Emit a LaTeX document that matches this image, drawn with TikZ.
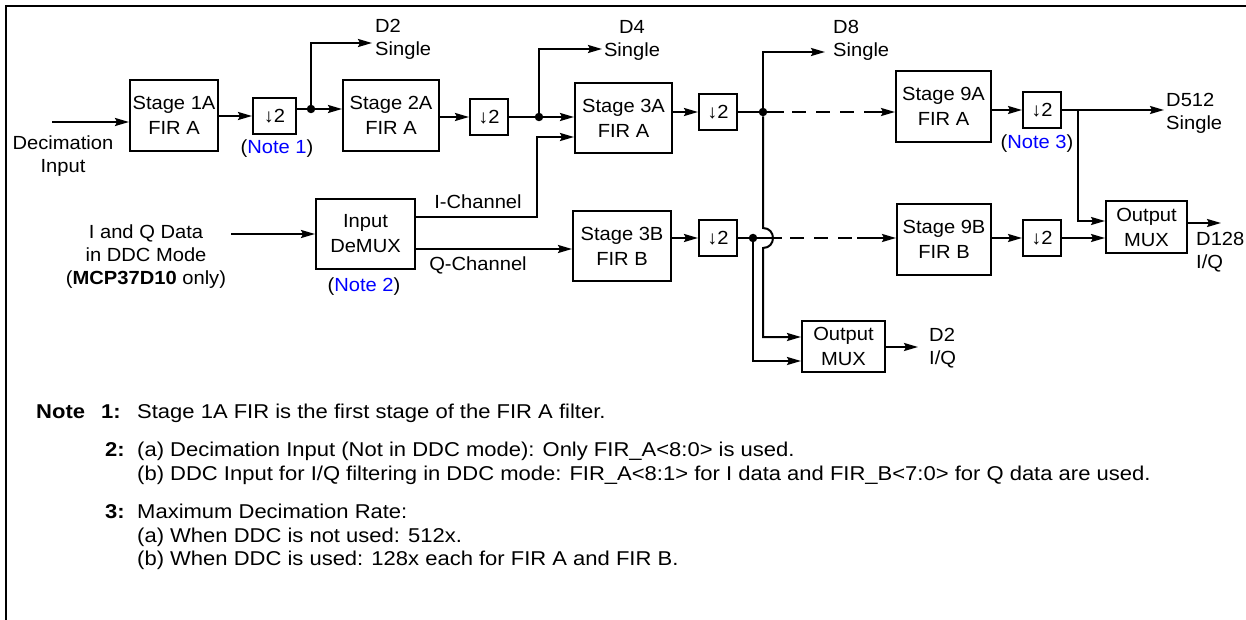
\documentclass[tikz,border=0pt]{standalone}
\usepackage{fontspec}
\setmainfont{Liberation Sans}[FakeStretch=1.06]
\newfontfamily\notefont{Liberation Sans}[FakeStretch=1.1]
\usetikzlibrary{arrows.meta,calc}
\definecolor{noteblue}{RGB}{0,0,255}
\begin{document}
\begin{tikzpicture}[x=1pt,y=-1pt,
  every node/.style={font=\fontsize{19}{23}\selectfont, inner sep=0pt},
  blk/.style={draw, line width=2pt, align=center, font=\fontsize{19}{25}\selectfont},
  dec/.style={draw, line width=2pt, minimum width=38pt, minimum height=36pt},
  wire/.style={line width=2pt},
  arr/.style={wire, -{Stealth[length=14pt,width=8pt,inset=2pt]}},
  dot/.style={circle, fill, minimum size=8.5pt, inner sep=0pt},
  lbl/.style={align=left, anchor=west},
  note/.style={font=\notefont\fontsize{20}{24}\selectfont, anchor=base west},
  notenum/.style={font=\notefont\fontsize{20}{24}\selectfont\bfseries, anchor=base east},
]
\useasboundingbox (0,0) rectangle (1246,620);
\draw[line width=2.4pt] (6,620) -- (6,6) -- (1246,6);

% blocks
\node[blk, minimum width=88pt, minimum height=71pt] (s1a) at (174,115.5) {Stage 1A\\FIR A};
\node[blk, minimum width=96pt, minimum height=71pt] (s2a) at (391,115.5) {Stage 2A\\FIR A};
\node[blk, minimum width=97pt, minimum height=70pt] (s3a) at (623.5,118) {Stage 3A\\FIR A};
\node[blk, minimum width=98pt, minimum height=70pt] (s3b) at (622,246) {Stage 3B\\FIR B};
\node[blk, minimum width=95pt, minimum height=71pt] (s9a) at (943.5,106.5) {Stage 9A\\FIR A};
\node[blk, minimum width=94pt, minimum height=71pt] (s9b) at (944,239.5) {Stage 9B\\FIR B};
\node[blk, minimum width=99pt, minimum height=70pt] (dmx) at (365.5,234) {Input\\DeMUX};
\node[blk, minimum width=83pt, minimum height=51pt] (om1) at (843.5,346.5) {Output\\MUX};
\node[blk, minimum width=81pt, minimum height=52pt] (om2) at (1146.5,227) {Output\\MUX};

\node[dec, minimum width=43pt] (d1) at (274.5,116) {↓2};
\node[dec] (d2) at (489,117) {↓2};
\node[dec] (d3) at (718,112) {↓2};
\node[dec] (d4) at (718,238) {↓2};
\node[dec] (d5) at (1042,110) {↓2};
\node[dec] (d6) at (1042,238) {↓2};

% junction dots
\node[dot] (j1) at (311,109) {};
\node[dot] (j2) at (539,117) {};
\node[dot] (j3) at (763,112) {};
\node[dot] (j4) at (753,238) {};

% free ends and bends
\coordinate (in1) at (52,122);
\coordinate (in2) at (231,234);
\coordinate (o2) at (372,43);
\coordinate (o4) at (602,49);
\coordinate (o8) at (825,52);
\coordinate (o512) at (1164,110);
\coordinate (o128) at (1221,223);
\coordinate (o2iq) at (918,347);
\coordinate (ich) at (537,217);
\coordinate (ich2) at (537,137);
\coordinate (qch) at (500,249);
\coordinate (hA) at (763,228);
\coordinate (hB) at (763,248);
\coordinate (k1) at (763,337);
\coordinate (k2) at (753,361);
\coordinate (j5) at (1078,110);
\coordinate (k3) at (1078,221);

% connectors
\draw[arr] (in1) -- (in1 -| s1a.west);
\draw[arr] (s1a.east |- d1) -- (d1.west);
\draw[wire] (d1.east |- j1) -- (j1);
\draw[arr] (j1) -- (j1 -| s2a.west);
\draw[arr] (j1) |- (o2);
\draw[arr] (s2a.east |- d2) -- (d2.west);
\draw[wire] (d2.east |- j2) -- (j2);
\draw[arr] (j2) -- (j2 -| s3a.west);
\draw[arr] (j2) |- (o4);
\draw[arr] (in2) -- (dmx.west);
\draw[arr] (dmx.east |- ich) -- (ich) -- (ich2) -- (ich2 -| s3a.west);
\draw[arr] (dmx.east |- qch) -- (qch -| s3b.west);
\draw[arr] (s3a.east |- d3) -- (d3.west);
\draw[wire] (d3.east |- j3) -- (j3);
\draw[arr] (j3) |- (o8);
\draw[arr, dash pattern=on 17pt off 8pt on 14pt off 10pt on 14pt off 10pt on 14pt off 10pt on 80pt off 0pt] (j3) -- (j3 -| s9a.west);
\draw[arr] (s3b.east |- d4) -- (d4.west);
\draw[wire] (d4.east) -- (j4);
\draw[arr, dash pattern=on 25pt off 8pt on 14pt off 10pt on 14pt off 10pt on 14pt off 5pt on 80pt off 0pt] (j4) -- (j4 -| s9b.west);
\draw[arr] (j3) -- (hA) .. controls +(13.3,0) and +(13.3,0) .. (hB) -- (k1) -- (k1 -| om1.west);
\draw[arr] (j4) -- (k2) -- (k2 -| om1.west);
\draw[arr] (om1.east |- o2iq) -- (o2iq);
\draw[arr] (s9a.east |- d5) -- (d5.west);
\draw[arr] (d5.east |- o512) -- (o512);
\draw[arr] (j5) -- (k3) -- (k3 -| om2.west);
\draw[arr] (s9b.east |- d6) -- (d6.west);
\draw[arr] (d6.east) -- (d6.east -| om2.west);
\draw[arr] (om2.east |- o128) -- (o128);

% labels
\node[lbl] (l2) at (375,39) {D2\\Single};
\node[align=center] (l4) at (632,40.5) {D4\\Single};
\node[lbl] (l8) at (833,40.5) {D8\\Single};
\node[lbl] (l512) at (1166,113) {D512\\Single};
\node[lbl] (l128) at (1196,252) {D128\\I/Q};
\node[lbl] (l2iq) at (929,348) {D2\\I/Q};
\node[align=center] (ldec) at (63,156) {Decimation\\Input};
\node[align=center] (liq) at (146,257) {I and Q Data\\in DDC Mode\\(\textbf{MCP37D10} only)};
\node (n1) at (277,149) {(\textcolor{noteblue}{Note 1})};
\node (n2) at (364,287) {(\textcolor{noteblue}{Note 2})};
\node (n3) at (1037,144) {(\textcolor{noteblue}{Note 3})};
\node (ilab) at (478,202) {I-Channel};
\node (qlab) at (478,265) {Q-Channel};

% notes
\node[notenum, anchor=base west] (nt) at (36,418) {Note};
\node[notenum] (nt1) at (121,418) {1:};
\node[note] (t1) at (137,418) {Stage 1A FIR is the first stage of the FIR A filter.};
\node[notenum] (nt2) at (125,456) {2:};
\node[note] (t2a) at (137,456) {(a) Decimation Input (Not in DDC mode): Only FIR\_A<8:0> is used.};
\node[note] (t2b) at (137,480) {(b) DDC Input for I/Q filtering in DDC mode: FIR\_A<8:1> for I data and FIR\_B<7:0> for Q data are used.};
\node[notenum] (nt3) at (125,518) {3:};
\node[note] (t3) at (137,518) {Maximum Decimation Rate:};
\node[note] (t3a) at (137,542) {(a) When DDC is not used: 512x.};
\node[note] (t3b) at (137,565) {(b) When DDC is used: 128x each for FIR A and FIR B.};
\end{tikzpicture}
\end{document}
